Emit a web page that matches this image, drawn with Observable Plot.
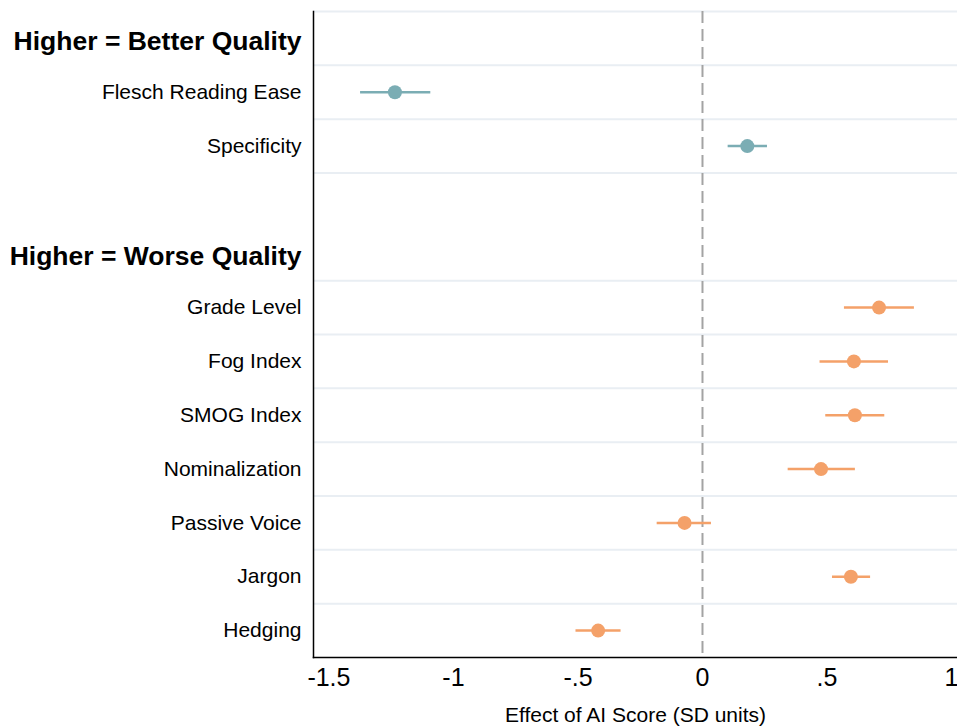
<!DOCTYPE html>
<html>
<head>
<meta charset="utf-8">
<script src="https://cdn.jsdelivr.net/npm/d3@7"></script>
<script src="https://cdn.jsdelivr.net/npm/@observablehq/plot@0.6"></script>
<style>
  html, body { margin: 0; padding: 0; background: #ffffff; }
  #chart { width: 957px; height: 726px; }
</style>
</head>
<body>
<div id="chart"></div>
<script>
// Row layout, top to bottom ("" is an empty spacer row)
const rows = [
  "Higher = Better Quality",
  "Flesch Reading Ease",
  "Specificity",
  "",
  "Higher = Worse Quality",
  "Grade Level",
  "Fog Index",
  "SMOG Index",
  "Nominalization",
  "Passive Voice",
  "Jargon",
  "Hedging"
];
const headers = ["Higher = Better Quality", "Higher = Worse Quality"];

// Measures and their estimates
const measures  = ["Flesch Reading Ease", "Specificity", "Grade Level", "Fog Index", "SMOG Index", "Nominalization", "Passive Voice", "Jargon", "Hedging"];
const groups    = ["better", "better", "worse", "worse", "worse", "worse", "worse", "worse", "worse"];
const estimates = [-1.235, 0.180, 0.709, 0.608, 0.612, 0.476, -0.072, 0.596, -0.419];
const lower     = [-1.373, 0.103, 0.570, 0.472, 0.495, 0.344, -0.182, 0.522, -0.508];
const upper     = [-1.091, 0.261, 0.851, 0.747, 0.732, 0.614, 0.036, 0.675, -0.327];

const xTicks = [-1.5, -1, -0.5, 0, 0.5, 1];
const xTickLabels = ["-1.5", "-1", "-.5", "0", ".5", "1"];
const xLabel = "Effect of AI Score (SD units)";

const groupColors = {better: "#7badb4", worse: "#f4a169"};

const data = measures.map((m, i) => ({
  measure: m, group: groups[i], est: estimates[i], lo: lower[i], hi: upper[i], row: rows.indexOf(m)
}));
const itemRows = measures.map(m => rows.indexOf(m));
const headerRows = headers.map(h => rows.indexOf(h));
// grid lines at the top boundary of every row, except right after the spacer row
const gridBounds = rows.flatMap((r, i) => (i > 0 && rows[i - 1] === "") ? [] : [i - 0.5]);

const chart = Plot.plot({
  width: 957,
  height: 726,
  marginTop: 11,
  marginBottom: 69,
  marginLeft: 313,
  marginRight: 0,
  style: {fontFamily: "'Liberation Sans', Arial, sans-serif", background: "#ffffff", color: "#000000"},
  x: {domain: [-1.562, 1.024]},
  y: {domain: [-0.5, rows.length - 0.5], reverse: true, axis: null},
  marks: [
    Plot.ruleY(gridBounds, {stroke: "#e9eef3", strokeWidth: 2}),
    Plot.ruleX([0], {stroke: "#a3a3a3", strokeWidth: 2, strokeDasharray: "12,6"}),
    Plot.ruleY(data, {y: "row", x1: "lo", x2: "hi", stroke: d => groupColors[d.group], strokeWidth: 2.5}),
    Plot.dot(data, {x: "est", y: "row", r: 7, fill: d => groupColors[d.group], stroke: "none"}),
    Plot.frame({anchor: "left", stroke: "#000000", strokeWidth: 1.5}),
    Plot.frame({anchor: "bottom", stroke: "#000000", strokeWidth: 1.5}),
    Plot.axisX({ticks: xTicks, tickFormat: (d) => xTickLabels[xTicks.indexOf(d)], tickSize: 0, tickPadding: 11, fontSize: 25, label: null}),
    Plot.axisY({ticks: itemRows, tickFormat: (d) => rows[d], tickSize: 0, tickPadding: 12, fontSize: 21, label: null}),
    Plot.axisY({ticks: headerRows, tickFormat: (d) => rows[d], tickSize: 0, tickPadding: 12, fontSize: 26.5, fontWeight: "bold", dy: 3, label: null}),
    Plot.text([xLabel], {frameAnchor: "bottom", dy: 58, fontSize: 21, lineAnchor: "middle"})
  ]
});
document.getElementById("chart").appendChild(chart);
</script>
</body>
</html>
